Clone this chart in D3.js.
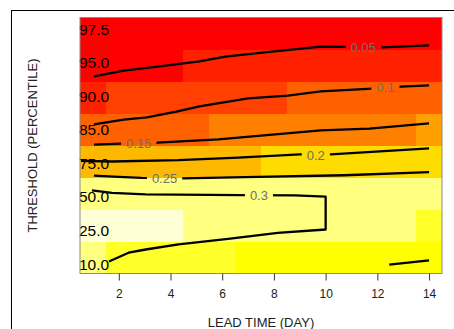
<!DOCTYPE html>
<html>
<head>
<meta charset="utf-8">
<script src="https://cdn.jsdelivr.net/npm/d3@7"></script>
<style>
  html, body { margin: 0; padding: 0; background: #fff; }
  svg { display: block; font-family: "Liberation Sans", Arial, Helvetica, sans-serif; }
</style>
</head>
<body>
<div id="chart"></div>
<script>
const leadTimes = [1, 2, 3, 4, 5, 6, 7, 8, 9, 10, 11, 12, 13, 14];
const thresholds = ["10.0", "25.0", "50.0", "75.0", "85.0", "90.0", "95.0", "97.5"];
const xTicks = [2, 4, 6, 8, 10, 12, 14];

// cell values, one array per threshold row, lead time 1..14
const row10  = [0.302, 0.292, 0.286, 0.281, 0.276, 0.271, 0.266, 0.262, 0.259, 0.256, 0.253, 0.251, 0.249, 0.247];
const row25  = [0.338, 0.342, 0.339, 0.335, 0.328, 0.325, 0.322, 0.319, 0.316, 0.313, 0.310, 0.307, 0.304, 0.297];
const row50  = [0.312, 0.314, 0.313, 0.311, 0.310, 0.309, 0.308, 0.307, 0.306, 0.305, 0.304, 0.303, 0.302, 0.301];
const row75  = [0.186, 0.190, 0.194, 0.198, 0.202, 0.206, 0.209, 0.213, 0.216, 0.219, 0.222, 0.225, 0.228, 0.231];
const row85  = [0.098, 0.103, 0.108, 0.112, 0.117, 0.122, 0.126, 0.130, 0.134, 0.138, 0.142, 0.145, 0.148, 0.156];
const row90  = [0.055, 0.064, 0.068, 0.071, 0.074, 0.078, 0.082, 0.086, 0.092, 0.095, 0.098, 0.101, 0.104, 0.107];
const row95  = [0.024, 0.026, 0.027, 0.029, 0.034, 0.036, 0.038, 0.040, 0.042, 0.044, 0.046, 0.048, 0.050, 0.052];
const row975 = [0.012, 0.014, 0.013, 0.015, 0.016, 0.017, 0.018, 0.018, 0.019, 0.020, 0.021, 0.022, 0.022, 0.023];

// contour lines as [lead time, threshold row position]
const contour005 = [[1.04, 5.66], [2.19, 5.84], [3.58, 5.97], [5.12, 6.13], [6.12, 6.28], [7.65, 6.41], [9.81, 6.59], [11.3, 6.58], [11.96, 6.56], [14.0, 6.63]];
const contour010 = [[1.04, 4.16], [2.19, 4.31], [3.08, 4.38], [4.23, 4.56], [5.12, 4.72], [7.0, 4.97], [8.54, 5.06], [9.81, 5.19], [11.81, 5.28], [12.92, 5.34], [14.0, 5.38]];
const contour015 = [[1.04, 3.53], [2.08, 3.56], [3.5, 3.59], [5.85, 3.69], [9.81, 3.97], [11.69, 4.03], [14.0, 4.19]];
const contour020 = [[0.54, 3.02], [1.73, 3.0], [4.31, 3.04], [6.62, 3.12], [9.0, 3.22], [10.19, 3.22], [14.0, 3.41]];
const contour025 = [[1.04, 2.56], [2.0, 2.52], [2.88, 2.49], [4.5, 2.47], [6.88, 2.51], [10.73, 2.57], [14.0, 2.67]];
const contour030 = [[0.96, 2.10], [1.73, 2.02], [3.04, 1.97], [6.73, 1.95], [8.81, 1.94], [10.0, 1.90], [10.0, 0.875],
                    [8.15, 0.77], [6.23, 0.58], [4.31, 0.41], [3.04, 0.25], [2.38, 0.15], [1.62, -0.125]];
const contour030b = [[12.46, -0.22], [14.0, -0.09]];

const contours = [
    { level: "0.05", pts: contour005, label: [11.46, 6.57] },
    { level: "0.1",  pts: contour010, label: [12.31, 5.31] },
    { level: "0.15", pts: contour015, label: [2.77, 3.56] },
    { level: "0.2",  pts: contour020, label: [9.62, 3.2] },
    { level: "0.25", pts: contour025, label: [3.77, 2.46] },
    { level: "0.3",  pts: contour030, label: [7.42, 1.94] },
    { level: null,   pts: contour030b, label: null }
];

const heatColors = ["#FF0000", "#FF2000", "#FF4000", "#FF6000", "#FF8000", "#FF9F00",
                    "#FFB800", "#FFDC00", "#FFFF00", "#FFFF2A", "#FFFF80", "#FFFFD5"];

const width = 454, height = 329;
const plot = { left: 80, right: 442, top: 17.5, bottom: 273.5 };

const svg = d3.select("#chart").append("svg")
    .attr("width", width)
    .attr("height", height);

const defs = svg.append("defs");

// outer frame
svg.append("rect")
    .attr("x", 11.5).attr("y", 10.5)
    .attr("width", 500).attr("height", 400)
    .attr("fill", "none")
    .attr("stroke", "#000");

const x = d3.scaleLinear().domain([0.5, 14.5]).range([plot.left, plot.right]);
const y = d3.scaleLinear().domain([-0.5, 7.5]).range([plot.bottom, plot.top]);
const color = d3.scaleQuantize().domain([0, 0.36]).range(heatColors);

const cellRows = [row10, row25, row50, row75, row85, row90, row95, row975];
const cells = cellRows.flatMap((vals, r) => vals.map((v, i) => ({ r, day: leadTimes[i], v })));

svg.append("g")
    .selectAll("rect")
    .data(cells)
    .join("rect")
    .attr("x", d => x(d.day - 0.5))
    .attr("y", d => y(d.r + 0.5))
    .attr("width", d => x(d.day + 0.5) - x(d.day - 0.5))
    .attr("height", d => y(d.r - 0.5) - y(d.r + 0.5))
    .attr("fill", d => color(d.v))
    .attr("shape-rendering", "crispEdges");

// threshold labels sit inside the plot, left aligned
const yLabel = d3.scalePoint().domain(thresholds).range([plot.bottom - 9.5, plot.top + 11.5]);

svg.append("g")
    .selectAll("text")
    .data(thresholds)
    .join("text")
    .attr("x", plot.left - 1)
    .attr("y", d => yLabel(d))
    .attr("dy", "0.36em")
    .attr("font-size", "15.5px")
    .attr("fill", "#000")
    .text(d => d);

// contour lines with gaps under their labels
const line = d3.line().x(d => x(d[0])).y(d => y(d[1]));
const cg = svg.append("g");

contours.forEach((c, i) => {
    const path = cg.append("path")
        .datum(c.pts)
        .attr("d", line)
        .attr("fill", "none")
        .attr("stroke", "#000")
        .attr("stroke-width", 2.3)
        .attr("stroke-linejoin", "round");

    if (!c.level) return;

    const t = cg.append("text")
        .attr("x", x(c.label[0]))
        .attr("y", y(c.label[1]))
        .attr("dy", "0.36em")
        .attr("text-anchor", "middle")
        .attr("font-size", "13px")
        .attr("fill", "#6e6e6e")
        .text(c.level);

    const bb = t.node().getBBox();
    const mask = defs.append("mask")
        .attr("id", "gap" + i)
        .attr("maskUnits", "userSpaceOnUse")
        .attr("x", 0).attr("y", 0)
        .attr("width", width).attr("height", height);
    mask.append("rect")
        .attr("width", width).attr("height", height)
        .attr("fill", "#fff");
    mask.append("rect")
        .attr("x", bb.x - 5).attr("y", bb.y - 2)
        .attr("width", bb.width + 10).attr("height", bb.height + 4)
        .attr("fill", "#000");
    path.attr("mask", `url(#gap${i})`);
});

// plot border
svg.append("rect")
    .attr("x", plot.left).attr("y", plot.top)
    .attr("width", plot.right - plot.left)
    .attr("height", plot.bottom - plot.top)
    .attr("fill", "none")
    .attr("stroke", "#8a8a8a")
    .attr("stroke-width", 1);

const xAxis = svg.append("g")
    .attr("transform", `translate(0,${plot.bottom})`)
    .call(d3.axisBottom(x).tickValues(xTicks).tickSize(7).tickPadding(9));

xAxis.select(".domain").remove();
xAxis.selectAll(".tick line").attr("stroke", "#333");
xAxis.selectAll(".tick text")
    .attr("font-size", "12px")
    .attr("font-family", "Liberation Sans, Arial, sans-serif")
    .attr("fill", "#222");

svg.append("text")
    .attr("x", (plot.left + plot.right) / 2)
    .attr("y", 327)
    .attr("text-anchor", "middle")
    .attr("font-size", "13px")
    .attr("fill", "#222")
    .text("LEAD TIME (DAY)");

svg.append("text")
    .attr("transform", `translate(37,${(plot.top + plot.bottom) / 2}) rotate(-90)`)
    .attr("text-anchor", "middle")
    .attr("font-size", "13px")
    .attr("fill", "#222")
    .text("THRESHOLD (PERCENTILE)");
</script>
</body>
</html>
